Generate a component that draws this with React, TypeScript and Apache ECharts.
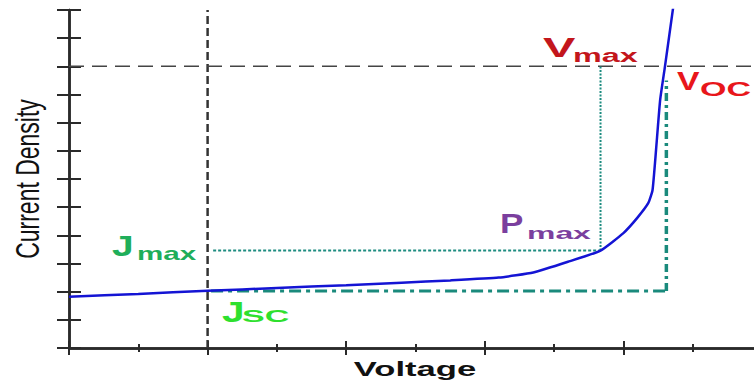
import React, { useEffect, useRef } from "react";
import * as echarts from "echarts";

// J–V curve of a solar cell (arbitrary units)
const voltage = [0, 1, 2, 3, 4, 4.8, 5.5, 6.2, 6.7, 7.2, 7.67, 8.0, 8.2, 8.36, 8.42, 8.47, 8.53, 8.6, 8.73];
const currentDensity = [1.82, 1.92, 2.03, 2.13, 2.23, 2.32, 2.4, 2.5, 2.68, 3.06, 3.46, 4.08, 4.62, 5.15, 5.6, 7.0, 8.8, 10.0, 12.3];

// key points
const vZeroLine = 2; // vertical dashed reference (V = 0)
const jZeroLine = 10; // horizontal dashed reference (J = 0)
const pMax = [7.67, 3.46];
const jscLevel = 2.02;
const vocValue = 8.62;
const vocTop = 9.5;

const axisColor = "#2a2a2a";
const teal = "#1d8c80";

export default function App() {
  const ref = useRef<HTMLDivElement>(null);
  useEffect(() => {
    if (!ref.current) return;
    const chart = echarts.init(ref.current, undefined, { renderer: "svg" });
    const xAxisBase = {
      type: "value" as const,
      min: 0,
      max: 10,
      interval: 2,
      axisLine: { show: true, lineStyle: { color: axisColor, width: 2.5 } },
      axisTick: { show: true, inside: false, length: -7, lineStyle: { color: axisColor, width: 2 } },
      minorTick: { show: true, splitNumber: 2, length: -4, lineStyle: { color: axisColor, width: 2 } },
      axisLabel: { show: false },
      splitLine: { show: false },
      minorSplitLine: { show: false },
    };
    const yAxisBase = {
      type: "value" as const,
      min: 0,
      max: 12,
      interval: 1,
      axisLine: { show: true, lineStyle: { color: axisColor, width: 2.5 } },
      axisTick: { show: true, inside: false, length: -12, lineStyle: { color: axisColor, width: 2 } },
      axisLabel: { show: false },
      splitLine: { show: false },
    };
    const label = (
      text: string,
      x: number,
      y: number,
      fontSize: number,
      sx: number,
      color: string
    ) => ({
      type: "text",
      x,
      y,
      scaleX: sx,
      style: {
        text,
        fill: color,
        font: `bold ${fontSize}px "Liberation Sans", Arial, sans-serif`,
        textAlign: "left",
        textVerticalAlign: "middle",
        verticalAlign: "middle",
      },
      z: 100,
    });
    chart.setOption({
      animation: false,
      grid: { left: 69, right: 0, top: 10, bottom: 34 },
      xAxis: [
        { ...xAxisBase, position: "bottom" },
        { ...xAxisBase, position: "top" },
      ],
      yAxis: [
        { ...yAxisBase, position: "left" },
        { ...yAxisBase, position: "right" },
      ],
      series: [
        {
          type: "line",
          data: [[vZeroLine, 0], [vZeroLine, 12]],
          symbol: "none",
          lineStyle: { color: "#333", width: 2.5, type: [8, 4] },
          z: 2,
        },
        {
          type: "line",
          data: [[0, jZeroLine], [10, jZeroLine]],
          symbol: "none",
          lineStyle: { color: "#444", width: 1.5, type: [15, 8] },
          z: 2,
        },
        {
          type: "line",
          data: [[2.08, pMax[1]], [pMax[0], pMax[1]]],
          symbol: "none",
          lineStyle: { color: teal, width: 2, type: [3, 2] },
          z: 3,
        },
        {
          type: "line",
          data: [[pMax[0], pMax[1]], [pMax[0], jZeroLine]],
          symbol: "none",
          lineStyle: { color: teal, width: 2, type: [2, 1.5] },
          z: 3,
        },
        {
          type: "line",
          data: [[2.05, jscLevel], [vocValue, jscLevel]],
          symbol: "none",
          lineStyle: { color: "#1a8a7c", width: 3, type: [12, 5, 4, 5] },
          z: 3,
        },
        {
          type: "line",
          data: [[vocValue, jscLevel], [vocValue, vocTop]],
          symbol: "none",
          lineStyle: { color: "#1a8a7c", width: 3.5, type: [8, 4, 3, 4] },
          z: 3,
        },
        {
          type: "line",
          data: voltage.map((v, i) => [v, currentDensity[i]]),
          symbol: "none",
          smooth: 0.15,
          lineStyle: { color: "#1414d4", width: 2.5 },
          z: 5,
        },
      ],
      graphic: [
        label("V", 543, 47.5, 27, 1.8, "#c3161c"),
        label("max", 573, 56.2, 17.5, 1.85, "#c3161c"),
        label("V", 677, 81, 25, 1.35, "#e8161b"),
        label("OC", 700, 89.5, 20, 1.7, "#e8161b"),
        label("P", 500, 223, 28, 1.25, "#7b3f9e"),
        label("max", 527, 232.9, 16.8, 1.9, "#7b3f9e"),
        label("J", 112, 245.5, 30, 1.3, "#1fae5a"),
        label("max", 137, 253.4, 18.5, 1.6, "#1fae5a"),
        label("J", 222, 311.5, 29, 1.4, "#2ee02e"),
        label("SC", 242, 316, 17, 2.0, "#2ee02e"),
        {
          type: "text",
          x: 415,
          y: 369,
          scaleX: 1.65,
          style: {
            text: "Voltage",
            fill: "#111",
            font: 'bold 21px "Liberation Sans", Arial, sans-serif',
            textAlign: "center",
            textVerticalAlign: "middle",
            verticalAlign: "middle",
          },
        },
        {
          type: "text",
          x: 27,
          y: 179,
          rotation: Math.PI / 2,
          scaleY: 1.42,
          style: {
            text: "Current Density",
            fill: "#111",
            font: '23px "Liberation Sans", Arial, sans-serif',
            textAlign: "center",
            textVerticalAlign: "middle",
            verticalAlign: "middle",
          },
        },
      ],
    });
    return () => chart.dispose();
  }, []);
  return (
    <div style={{ position: "fixed", left: 0, top: 0, width: 754, height: 382, overflow: "hidden", background: "#fff" }}>
      <div ref={ref} style={{ width: 762, height: 382 }} />
    </div>
  );
}
